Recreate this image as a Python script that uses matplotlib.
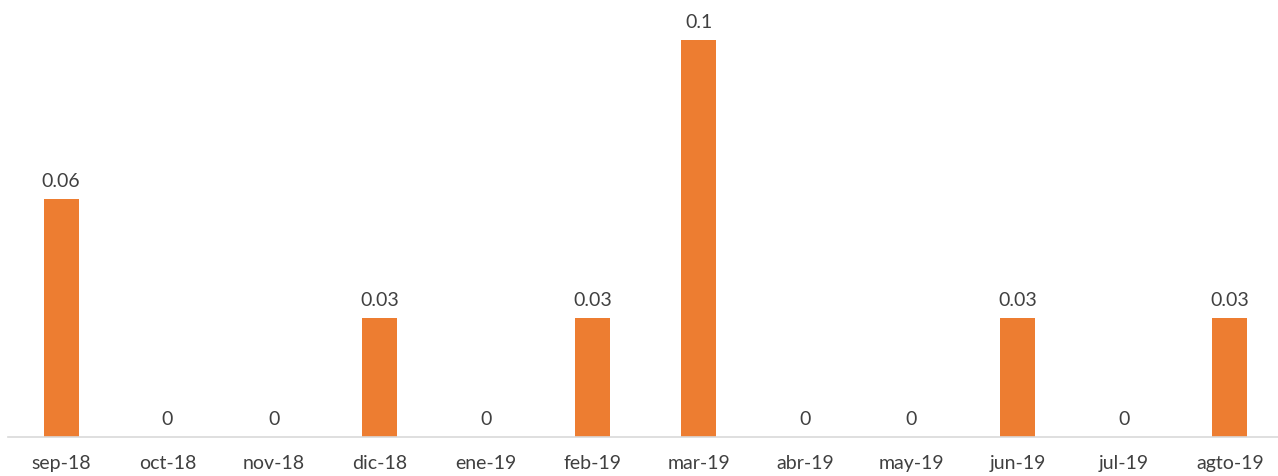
import matplotlib.pyplot as plt

meses = ["sep-18", "oct-18", "nov-18", "dic-18", "ene-19", "feb-19",
         "mar-19", "abr-19", "may-19", "jun-19", "jul-19", "agto-19"]
valores = [0.06, 0, 0, 0.03, 0, 0.03, 0.1, 0, 0, 0.03, 0, 0.03]
etiquetas = ["0.06", "0", "0", "0.03", "0", "0.03", "0.1", "0", "0", "0.03", "0", "0.03"]

plt.rcParams["font.family"] = ["Lato", "DejaVu Sans"]

fig = plt.figure(figsize=(12.78, 4.77), dpi=100)
ax = fig.add_axes([8 / 1278, 39 / 477, 1275 / 1278, 397 / 477])

x = range(len(meses))
bars = ax.bar(x, valores, width=0.33, color="#ED7D31", zorder=2)

for b, t in zip(bars, etiquetas):
    ax.annotate(t, (b.get_x() + b.get_width() / 2, b.get_height()),
                xytext=(0, 7), textcoords="offset points",
                ha="center", va="bottom", fontsize=14, color="#404040",
                annotation_clip=False)

ax.set_xlim(-0.5, 11.5)
ax.set_ylim(0, 0.1)
ax.set_xticks(list(x))
ax.set_xticklabels(meses, fontsize=14, color="#404040")
ax.tick_params(axis="x", length=0, pad=12)
ax.set_yticks([])
for s in ["top", "right", "left"]:
    ax.spines[s].set_visible(False)
ax.spines["bottom"].set_color("#D9D9D9")
ax.spines["bottom"].set_linewidth(1.2)

fig.savefig("out.png", dpi=100)
